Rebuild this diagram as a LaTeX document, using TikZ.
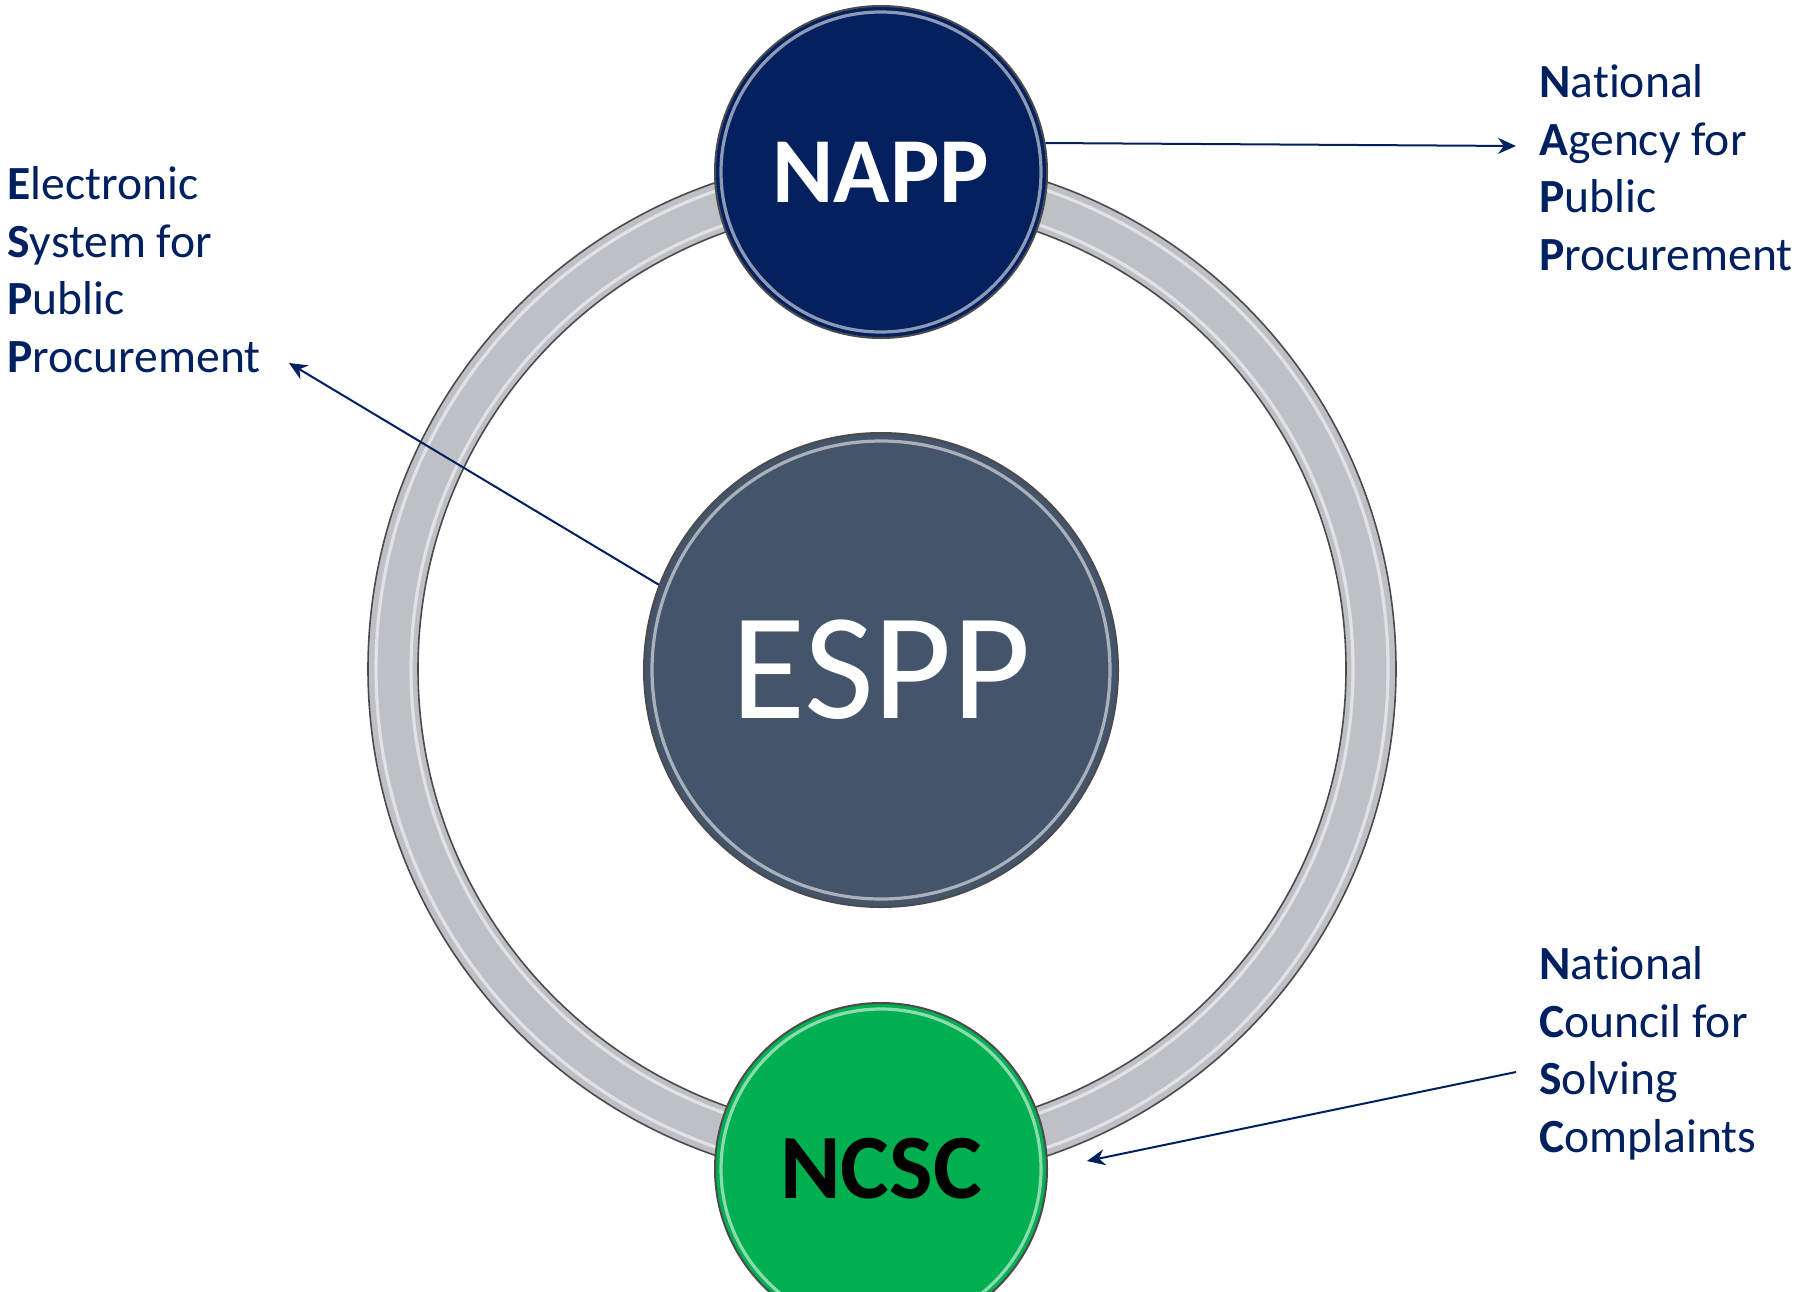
\documentclass[tikz,border=0pt]{standalone}
\usepackage{fontspec}
\setmainfont{Carlito}[Ligatures=NoCommon]
\usetikzlibrary{arrows.meta}

\definecolor{navytext}{RGB}{0,32,96}
\definecolor{nappblue}{RGB}{4,32,94}
\definecolor{esppgray}{RGB}{68,84,106}
\definecolor{ncscgreen}{RGB}{0,176,80}
\definecolor{ringgray}{RGB}{190,192,197}
\definecolor{rimgray}{RGB}{75,75,78}

\tikzset{
  disc/.style={circle, draw=rimgray, line width=1pt, inner sep=0pt},
  rimshine/.style={draw=white, opacity=0.55, line width=1.6pt},
  infotext/.style={anchor=base west, align=left, inner sep=0pt, text=navytext,
    font=\fontsize{23.8}{28.75}\selectfont},
  pointer/.style={draw=navytext, line width=1pt, -{Stealth[length=9pt,width=8pt]}},
}

\begin{document}
\begin{tikzpicture}[x=0.5pt,y=-0.5pt]
	\useasboundingbox (0,0) rectangle (1794,1291);
	\clip (0,0) rectangle (1794,1291);
	% ring behind the three discs
	\coordinate (ringC) at (882,669);
	\draw[rimgray, line width=0.8pt, fill=ringgray, even odd rule] (ringC) circle (257pt) circle (232pt);
	\draw[rimshine] (ringC) circle (253pt);
	\draw[rimshine] (ringC) circle (235.5pt);
	% discs
	\node[disc, fill=nappblue, minimum size=166pt, text=white,
		font=\fontsize{46.5}{46.5}\selectfont\bfseries] (napp) at (881,172) {NAPP};
	\draw[rimshine] (napp) circle (80pt);
	\node[disc, fill=esppgray, minimum size=237pt, text=white,
		font=\fontsize{76}{76}\selectfont] (espp) at (881,670) {ESPP};
	\draw[rimshine] (espp) circle (114.5pt);
	\node[disc, fill=ncscgreen, minimum size=166pt, text=black,
		font=\fontsize{46}{46}\selectfont\bfseries] (ncsc) at (881,1169) {NCSC};
	\draw[rimshine] (ncsc) circle (80pt);
	% explanations (base = last line)
	\node[infotext] (esppText) at (7,372) {\textbf{E}lectronic\\\textbf{S}ystem for\\\textbf{P}ublic\\\textbf{P}rocurement};
	\node[infotext] (nappText) at (1539,270) {\textbf{N}ational\\\textbf{A}gency for\\\textbf{P}ublic\\\textbf{P}rocurement};
	\node[infotext] (ncscText) at (1539,1152) {\textbf{N}ational\\\textbf{C}ouncil for\\\textbf{S}olving\\\textbf{C}omplaints};
	% pointers
	\coordinate (nappTip) at (1516,146);
	\coordinate (esppTip) at (289,363);
	\coordinate (ncscTail) at (1516,1072);
	\coordinate (ncscTip) at (1087,1161);
	\draw[pointer] (napp.10) -- (nappTip);
	\draw[pointer] (espp.159) -- (esppTip);
	\draw[pointer] (ncscTail) -- (ncscTip);
\end{tikzpicture}
\end{document}
